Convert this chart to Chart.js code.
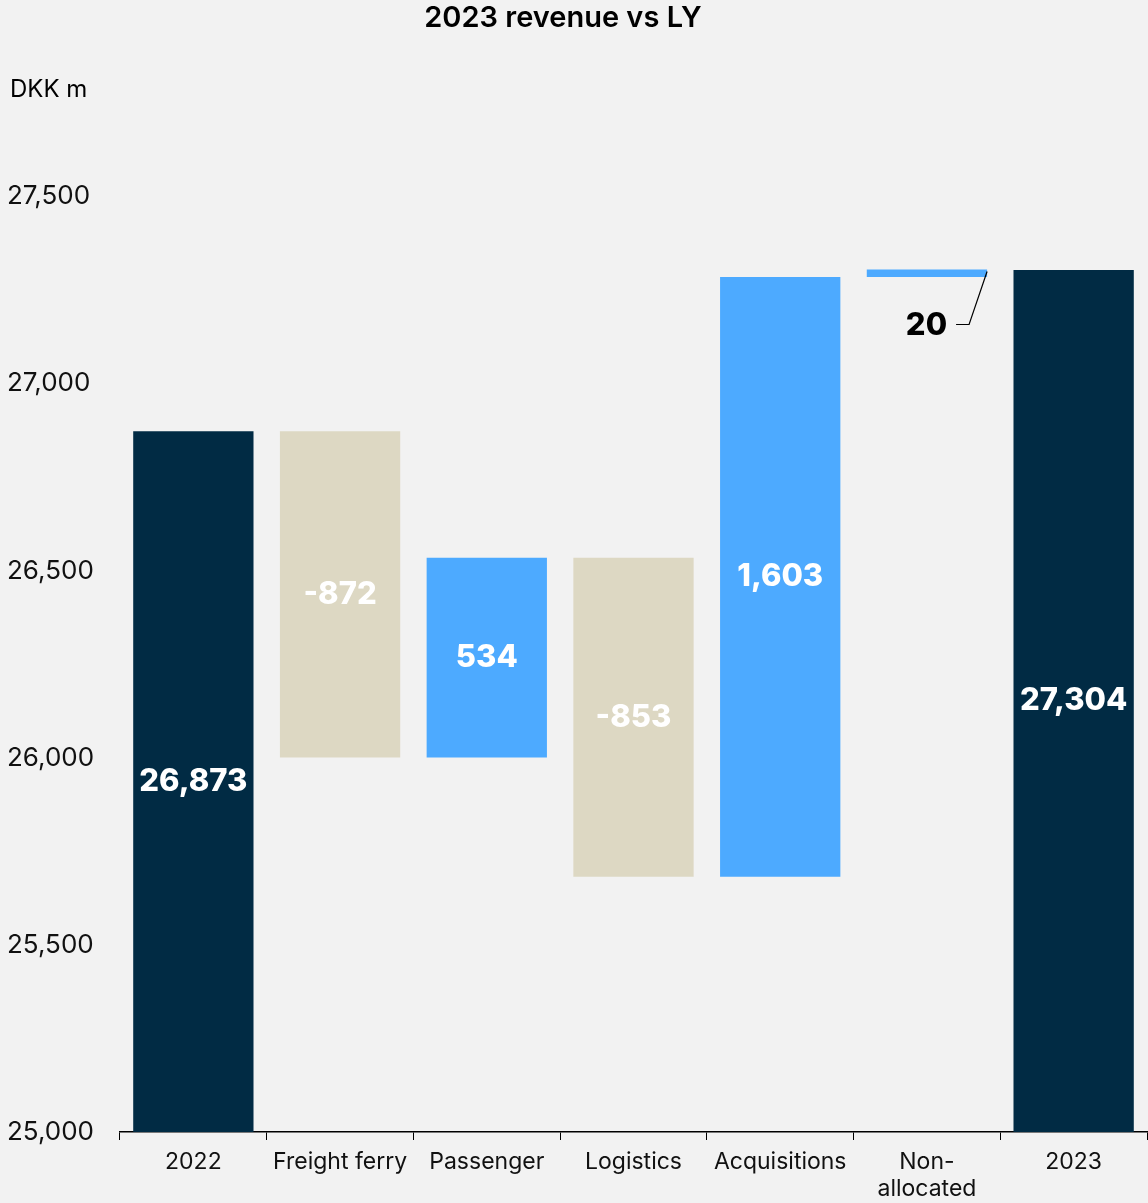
<!DOCTYPE html>
<html>
<head>
<meta charset="utf-8">
<script src="https://cdn.jsdelivr.net/npm/chart.js@4.4.1/dist/chart.umd.min.js"></script>
<style>
  html, body { margin: 0; padding: 0; background: #f2f2f2; }
  #wrap { width: 1148px; height: 1203px; position: relative; }
</style>
</head>
<body>
<div id="wrap"><canvas id="myChart" width="1148" height="1203"></canvas></div>
<script>
// data
var categories = ['2022', 'Freight ferry', 'Passenger', 'Logistics', 'Acquisitions', ['Non-', 'allocated'], '2023'];
var values = [26873, -872, 534, -853, 1603, 20, 27304];
var kinds = ['total', 'delta', 'delta', 'delta', 'delta', 'delta', 'total'];
var yTicks = [25000, 25500, 26000, 26500, 27000, 27500];

var navy = '#012b44', blue = '#4daaff', beige = '#ddd8c3';
var axisMin = 25000, axisMax = 27750;

// floating ranges for the waterfall
var ranges = [], colors = [];
var running = 0;
values.forEach(function (v, i) {
    if (kinds[i] === 'total') {
        ranges.push([axisMin, v]);
        running = v;
        colors.push(navy);
    } else {
        ranges.push([running, running + v]);
        running += v;
        colors.push(v < 0 ? beige : blue);
    }
});

var fontFamily = 'Inter, "Noto Sans", sans-serif';

var labelPlugin = {
    id: 'barLabels',
    afterDatasetsDraw: function (chart) {
        var ctx = chart.ctx;
        var meta = chart.getDatasetMeta(0);
        ctx.save();
        ctx.font = '800 31px ' + fontFamily;
        ctx.textBaseline = 'middle';
        meta.data.forEach(function (bar, i) {
            var text = values[i].toLocaleString('en-US');
            var top = Math.min(bar.y, bar.base), bottom = Math.max(bar.y, bar.base);
            var h = bottom - top;
            if (h > 40) {
                ctx.fillStyle = '#ffffff';
                ctx.textAlign = 'center';
                ctx.fillText(text, bar.x, (top + bottom) / 2);
            } else {
                // small bar: label below with a leader line
                var right = bar.x + bar.width / 2;
                ctx.strokeStyle = '#000';
                ctx.lineWidth = 1.2;
                ctx.beginPath();
                ctx.moveTo(right, top + 2);
                ctx.lineTo(right - 18, top + 55);
                ctx.lineTo(right - 31, top + 55);
                ctx.stroke();
                ctx.fillStyle = '#000';
                ctx.textAlign = 'right';
                ctx.fillText(text, right - 40, top + 56);
            }
        });
        ctx.restore();
    }
};

var titlePlugin = {
    id: 'titles',
    beforeDraw: function (chart) {
        var ctx = chart.ctx;
        ctx.save();
        ctx.fillStyle = '#f2f2f2';
        ctx.fillRect(0, 0, chart.width, chart.height);
        ctx.fillStyle = '#000';
        ctx.textBaseline = 'middle';
        ctx.textAlign = 'center';
        ctx.font = '600 29px ' + fontFamily;
        ctx.fillText('2023 revenue vs LY', 563, 18);
        ctx.textAlign = 'left';
        ctx.font = '24px ' + fontFamily;
        ctx.fillText('DKK m', 10, 90);
        ctx.restore();
    }
};

var ctx = document.getElementById('myChart').getContext('2d');
var myChart = new Chart(ctx, {
    type: 'bar',
    data: {
        labels: categories,
        datasets: [{
            data: ranges,
            backgroundColor: colors,
            borderWidth: 0,
            categoryPercentage: 1,
            barPercentage: 0.82
        }]
    },
    options: {
        responsive: false,
        animation: false,
        layout: { padding: { top: 103, left: 7, right: 1, bottom: 0 } },
        plugins: {
            legend: { display: false },
            tooltip: { enabled: false }
        },
        scales: {
            x: {
                afterFit: function (scale) { scale.height = 71; },
                grid: { display: true, drawOnChartArea: false, drawTicks: true, tickLength: 8, color: '#000', lineWidth: 1 },
                border: { display: true, color: '#000', width: 1.5 },
                ticks: { color: '#111', font: { size: 23, family: fontFamily, lineHeight: 1.2 }, padding: 8, maxRotation: 0, autoSkip: false }
            },
            y: {
                min: axisMin,
                max: axisMax,
                grid: { display: false },
                border: { display: false },
                afterBuildTicks: function (scale) {
                    scale.ticks = yTicks.map(function (v) { return { value: v }; });
                },
                afterFit: function (scale) { scale.width = 113; },
                ticks: {
                    crossAlign: 'far',
                    color: '#111',
                    font: { size: 26, family: fontFamily },
                    callback: function (v) { return v.toLocaleString('en-US'); }
                }
            }
        }
    },
    plugins: [titlePlugin, labelPlugin]
});
</script>
</body>
</html>
